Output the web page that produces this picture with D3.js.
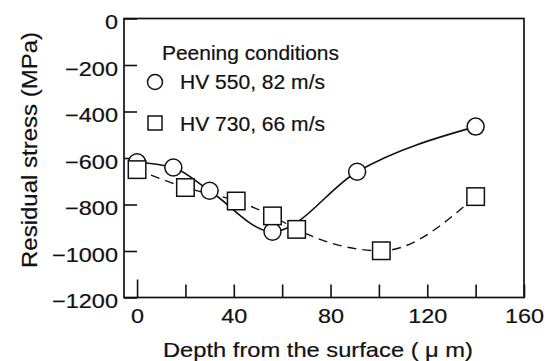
<!DOCTYPE html>
<html>
<head>
<meta charset="utf-8">
<script src="https://cdn.jsdelivr.net/npm/d3@7"></script>
<style>
html,body{margin:0;padding:0;background:#fff;}
svg{display:block;}
text{font-family:"Liberation Sans",Arial,Helvetica,sans-serif;fill:#111;stroke:#111;stroke-width:0.2px;}
</style>
</head>
<body>
<svg id="chart" width="545" height="361"></svg>
<script>
// ---- data ----
const depthA = [0, 15, 30, 56, 91, 140];           // HV 550, 82 m/s (circles)
const stressA = [-618, -641, -741, -917, -659, -465];
const depthB = [0, 20, 41, 56, 66, 101, 140];      // HV 730, 66 m/s (squares)
const stressB = [-650, -727, -785, -849, -907, -999, -766];
const xTicks = [0, 20, 40, 60, 80, 100, 120, 140, 160];
const xTickLabels = ["0", "", "40", "", "80", "", "120", "", "160"];
const yTicks = [0, -200, -400, -600, -800, -1000, -1200];
const yTickLabels = ["0", "\u2212200", "\u2212400", "\u2212600", "\u2212800", "\u22121000", "\u22121200"];
const legendTitle = "Peening conditions";
const seriesNames = ["HV 550, 82 m/s", "HV 730, 66 m/s"];
const xTitle = "Depth from the surface ( \u03bc m)";
const yTitle = "Residual stress (MPa)";

const svg = d3.select("#chart");
const L = 124, R = 524, T = 18.5, B = 297.5;
const x = d3.scaleLinear().domain([-5.4, 160]).range([L, R]);
const y = d3.scaleLinear().domain([-1200, 0]).range([B, T]);

const ink = "#111";
// width of a tick label, scanned figure is horizontally wide
const labelWidth = t => {
  const digits = t.replace("\u2212", "").length;
  return digits * 13 + (t.startsWith("\u2212") ? 14 : 0);
};

// x axis
const xa = svg.append("g").attr("transform", `translate(0,${B})`)
  .call(d3.axisBottom(x).tickValues(xTicks).tickSize(-13).tickPadding(11)
    .tickFormat((d, i) => xTickLabels[i]));
xa.select(".domain").remove();
xa.selectAll(".tick line").attr("stroke", ink).attr("stroke-width", 1.6)
  .filter(d => d === 0).attr("y2", -18);
xa.selectAll(".tick text").attr("font-size", 20).attr("font-family", null).attr("fill", ink)
  .each(function () {
    const t = d3.select(this).text();
    if (t) d3.select(this).attr("textLength", labelWidth(t)).attr("lengthAdjust", "spacingAndGlyphs");
  });

// y axis
const ya = svg.append("g").attr("transform", `translate(${L},0)`)
  .call(d3.axisLeft(y).tickValues(yTicks).tickSize(-13).tickPadding(6)
    .tickFormat((d, i) => yTickLabels[i]));
ya.select(".domain").remove();
ya.selectAll(".tick line").attr("stroke", ink).attr("stroke-width", 1.6);
ya.selectAll(".tick text").attr("font-size", 20).attr("font-family", null).attr("fill", ink).attr("dy", "0.5em")
  .each(function () {
    const t = d3.select(this).text();
    d3.select(this).attr("textLength", labelWidth(t)).attr("lengthAdjust", "spacingAndGlyphs");
  });

// frame
svg.append("rect").attr("x", L).attr("y", T).attr("width", R - L).attr("height", B - T)
  .attr("fill", "none").attr("stroke", ink).attr("stroke-width", 1.7);

// curves
const lineA = d3.line().x(d => x(d[0])).y(d => y(d[1])).curve(d3.curveMonotoneX);
const ptsA = depthA.map((d, i) => [d, stressA[i]]);
const ptsB = depthB.map((d, i) => [d, stressB[i]]);
svg.append("path").attr("d", lineA(ptsB)).attr("fill", "none").attr("stroke", ink)
  .attr("stroke-width", 1.4).attr("stroke-dasharray", "9,6");
svg.append("path").attr("d", lineA(ptsA)).attr("fill", "none").attr("stroke", ink)
  .attr("stroke-width", 1.6);

// markers
svg.append("g").selectAll("circle").data(ptsA).join("circle")
  .attr("cx", d => x(d[0])).attr("cy", d => y(d[1])).attr("r", 8.5)
  .attr("fill", "#fff").attr("stroke", ink).attr("stroke-width", 1.5);
const s = 17.5;
svg.append("g").selectAll("rect").data(ptsB).join("rect")
  .attr("x", d => x(d[0]) - s / 2).attr("y", d => y(d[1]) - s / 2)
  .attr("width", s).attr("height", s)
  .attr("fill", "#fff").attr("stroke", ink).attr("stroke-width", 1.5);

// legend
svg.append("text").attr("x", 162).attr("y", 60).attr("font-size", 19.5)
  .attr("textLength", 177).attr("lengthAdjust", "spacingAndGlyphs").text(legendTitle);
svg.append("circle").attr("cx", 155).attr("cy", 82).attr("r", 7.5)
  .attr("fill", "#fff").attr("stroke", ink).attr("stroke-width", 1.5);
svg.append("rect").attr("x", 155 - 7).attr("y", 123 - 7).attr("width", 14).attr("height", 14)
  .attr("fill", "#fff").attr("stroke", ink).attr("stroke-width", 1.5);
svg.append("text").attr("x", 180).attr("y", 89).attr("font-size", 19.5)
  .attr("textLength", 145).attr("lengthAdjust", "spacingAndGlyphs").text(seriesNames[0]);
svg.append("text").attr("x", 180).attr("y", 130.5).attr("font-size", 19.5)
  .attr("textLength", 145).attr("lengthAdjust", "spacingAndGlyphs").text(seriesNames[1]);

// axis titles
svg.append("text").attr("x", 163).attr("y", 357)
  .attr("font-size", 21).attr("textLength", 310).attr("lengthAdjust", "spacingAndGlyphs").text(xTitle);
svg.append("text").attr("transform", "translate(37,268) rotate(-90)")
  .attr("font-size", 22).attr("textLength", 236).attr("lengthAdjust", "spacingAndGlyphs").text(yTitle);
</script>
</body>
</html>
